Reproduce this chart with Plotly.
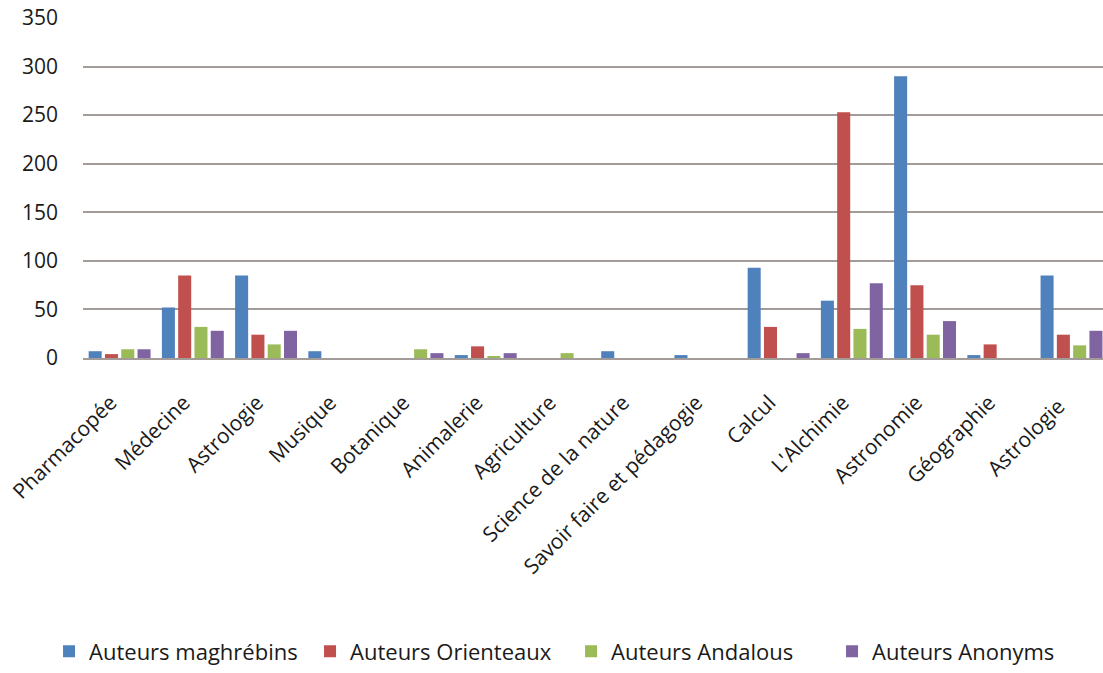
import plotly.graph_objects as go

categories = [
    "Pharmacopée", "Médecine", "Astrologie", "Musique", "Botanique",
    "Animalerie", "Agriculture", "Science de la nature",
    "Savoir faire et pédagogie", "Calcul", "L'Alchimie", "Astronomie",
    "Géographie", "Astrologie ",
]

maghrebins = [7, 52, 85, 7, 0, 3, 0, 7, 3, 93, 59, 290, 3, 85]
orienteaux = [4, 85, 24, 0, 0, 12, 0, 0, 0, 32, 253, 75, 14, 24]
andalous = [9, 32, 14, 0, 9, 2, 5, 0, 0, 0, 30, 24, 0, 13]
anonyms = [9, 28, 28, 0, 5, 5, 0, 0, 0, 5, 77, 38, 0, 28]

series = [
    ("Auteurs maghrébins", maghrebins, "#4F81BD"),
    ("Auteurs Orienteaux", orienteaux, "#C0504D"),
    ("Auteurs Andalous", andalous, "#9BBB59"),
    ("Auteurs Anonyms", anonyms, "#8064A2"),
]

y_ticks = [0, 50, 100, 150, 200, 250, 300, 350]

fig = go.Figure()
for name, vals, color in series:
    fig.add_trace(go.Bar(
        name=name, x=categories, y=vals,
        marker=dict(color=color, line=dict(width=0)),
    ))

grid = "#A39B97"
font = "Open Sans, Noto Sans, sans-serif"

fig.update_layout(
    width=1103, height=673,
    margin=dict(l=83, r=0, t=18, b=315),
    paper_bgcolor="white", plot_bgcolor="white",
    barmode="group", bargap=0.11, bargroupgap=0.2,
    font=dict(family=font, color="#1a1a1a"),
    showlegend=True,
    legend=dict(
        orientation="h", x=-0.0333, xanchor="left",
        y=-0.863, yanchor="middle",
        font=dict(size=22, family=font, color="#1a1a1a"),
        itemwidth=30, traceorder="normal", entrywidth=216,
    ),
    xaxis=dict(
        type="category", range=[-0.5, 13.43],
        tickangle=-45, tickfont=dict(size=21, family=font, color="#1a1a1a"),
        ticklabelstandoff=22, ticklabelshift=-9,
        showgrid=False, showline=True, linecolor=grid, linewidth=2,
        ticks="", zeroline=False,
    ),
    yaxis=dict(
        range=[0, 350], tickvals=y_ticks,
        tickfont=dict(size=21, family=font, color="#1a1a1a"),
        showgrid=True, gridcolor=grid, gridwidth=1.5,
        zeroline=False, showline=False, ticks="", ticklabelstandoff=24,
    ),
)

fig.write_html("out.html")
